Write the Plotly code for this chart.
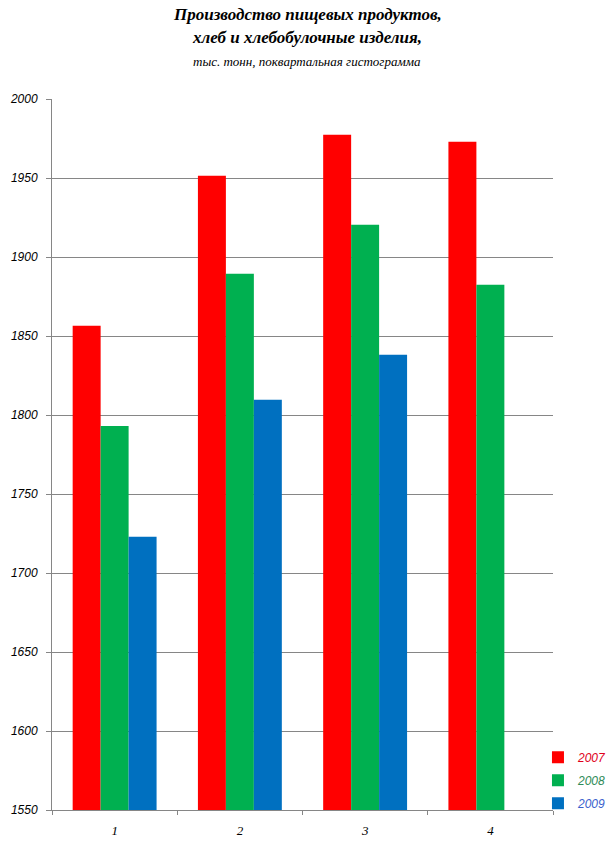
import plotly.graph_objects as go

# quarters and production by year, thousand tonnes
quarters = ["1", "2", "3", "4"]
prod_2007 = [1856.5, 1951.5, 1977.4, 1973.0]
prod_2008 = [1793.0, 1889.4, 1920.4, 1882.5]
prod_2009 = [1723.0, 1809.7, 1838.2, None]

years = ["2007", "2008", "2009"]
colors = ["#FF0000", "#00B050", "#0070C0"]
text_colors = ["#E0001B", "#2E8B57", "#3A5FCD"]

title_lines = ["Производство пищевых продуктов,", "хлеб и хлебобулочные изделия,"]
subtitle = "тыс. тонн, поквартальная гистограмма"

fig = go.Figure()
for year, vals, col, tcol in zip(years, [prod_2007, prod_2008, prod_2009], colors, text_colors):
    fig.add_trace(go.Bar(
        x=quarters, y=vals,
        name=f"<span style='color:{tcol}'>{year}</span>",
        marker=dict(color=col, line=dict(width=0)),
        legendgroup=year,
    ))

# title as separate lines so spacing can be set
serif = "Liberation Serif"
for txt, ypos in zip(title_lines, [1.1195, 1.0858]):
    fig.add_annotation(text=f"<b>{txt}</b>", x=0.509, y=ypos, xref="paper", yref="paper",
                       xanchor="center", yanchor="middle", showarrow=False,
                       font=dict(family=serif, size=17, color="black", style="italic"))
fig.add_annotation(text=subtitle, x=0.509, y=1.0534, xref="paper", yref="paper",
                   xanchor="center", yanchor="middle", showarrow=False,
                   font=dict(family=serif, size=13, color="black", style="italic"))

grey = "#868686"
fig.update_layout(
    width=616, height=845,
    margin=dict(l=52, r=63, t=99, b=35, autoexpand=False),
    paper_bgcolor="white", plot_bgcolor="white",
    barmode="group", bargap=0.33, bargroupgap=0,
    legend=dict(
        x=0.970, xanchor="left", y=-0.011, yanchor="bottom",
        font=dict(family="Liberation Sans", size=12, style="italic"),
        traceorder="grouped", tracegroupgap=4,
        bgcolor="rgba(0,0,0,0)",
    ),
    xaxis=dict(
        type="category",
        showline=True, linecolor=grey, linewidth=1,
        ticks="outside", tickson="boundaries", ticklen=4, tickcolor=grey,
        showgrid=False, ticklabelstandoff=8,
        tickfont=dict(family=serif, size=13, color="black", style="italic"),
    ),
    yaxis=dict(
        range=[1550, 2000], dtick=50, tick0=1550,
        showline=True, linecolor=grey, linewidth=1,
        ticks="outside", ticklen=5, tickcolor=grey,
        showgrid=True, gridcolor=grey, gridwidth=1,
        zeroline=False, ticklabelstandoff=6,
        tickfont=dict(family="Liberation Sans", size=12, color="black", style="italic"),
    ),
)

fig.write_html("out.html", config={"displayModeBar": False},
               post_script="document.body.style.margin='0';")
